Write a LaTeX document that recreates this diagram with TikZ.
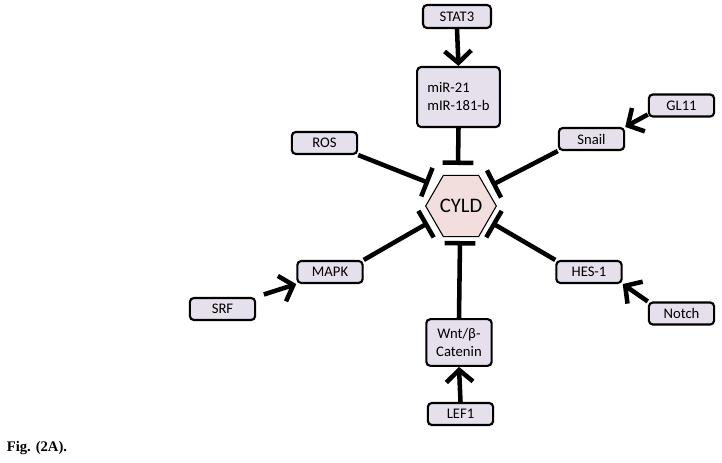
\documentclass[tikz,border=0pt]{standalone}
\usepackage{fontspec}
\setmainfont{Carlito}
\newfontfamily\figfont{Liberation Serif}
\usepackage{xcolor}
\usetikzlibrary{arrows.meta,positioning,shapes.geometric}
\definecolor{boxLilac}{RGB}{230,224,236}
\definecolor{cyldPink}{RGB}{242,222,220}

\tikzset{
  factor/.style={draw=black, line width=1.6pt, rounded corners=3pt, fill=boxLilac,
    minimum width=49pt, minimum height=16.5pt, inner sep=2pt,
    font=\fontsize{11}{13.5}\selectfont},
  act/.style={line width=3.4pt, -{Straight Barb[length=9pt,width=20pt]}},
  inh/.style={line width=3.4pt, -{Bar[width=23pt]}},
}

\begin{document}
\begin{tikzpicture}[x=0.75pt, y=-0.75pt]
\useasboundingbox (0,0) rectangle (722,463);

% central node
\node[regular polygon, regular polygon sides=6, minimum size=53pt, inner sep=0pt,
  draw=black, line width=0.8pt, fill=cyldPink, font=\fontsize{15.5}{18}\selectfont]
  (cyld) at (461,206) {CYLD};

% regulators
\node[factor, minimum width=51pt, minimum height=17.25pt] (stat3) at (457,16.5) {STAT3};
\node[factor, minimum width=62pt, minimum height=45pt, align=left] (mir) at (458.5,97) {miR-21\\mIR-181-b};
\node[factor] (ros) at (324.5,143) {ROS};
\node[factor] (snail) at (591.5,139) {Snail};
\node[factor] (gl11) at (681.5,105.5) {GL11};
\node[factor] (mapk) at (330,272) {MAPK};
\node[factor] (srf) at (222.5,309) {SRF};
\node[factor] (hes) at (589,272) {HES-1};
\node[factor] (notch) at (681.5,313.5) {Notch};
\node[factor, minimum height=35pt, align=center] (wnt) at (459,342.5) {Wnt/β-\\Catenin};
\node[factor] (lef) at (460.5,414) {LEF1};

\node[font=\figfont\bfseries\fontsize{11}{13}\selectfont] (fig) at (37,448) {Fig. (2A).};

% ends of the inhibition lines
\coordinate (barT) at (458,165);
\coordinate (barB) at (460,241);
\coordinate (barUL) at (429,183);
\coordinate (barUR) at (492,185);
\coordinate (barLL) at (428,223);
\coordinate (barLR) at (492,223);

% activation
\draw[act] (stat3.south) -- (mir.north);
\draw[act] (gl11.195) -- (snail.north east);
\draw[act, shorten <=6pt] (srf.north east) -- (mapk.south west);
\draw[act] (notch.north west) -- (hes.south east);
\draw[act] (lef.north) -- (wnt.south);

% inhibition
\draw[inh] (mir.south) -- (barT);
\draw[inh] (ros.south east) -- (barUL);
\draw[inh] (snail.south west) -- (barUR);
\draw[inh] (mapk.north east) -- (barLL);
\draw[inh] (hes.north west) -- (barLR);
\draw[inh] (wnt.north) -- (barB);
\end{tikzpicture}
\end{document}
